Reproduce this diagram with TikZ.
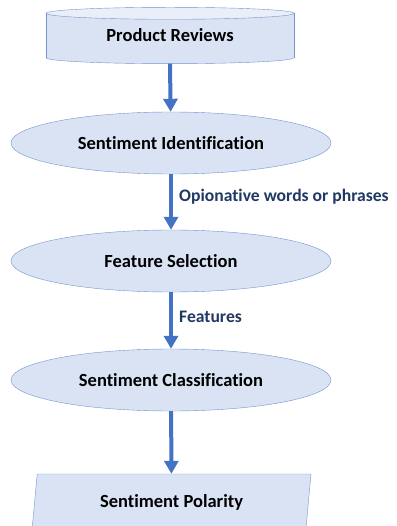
\documentclass[tikz,border=0pt]{standalone}
\usepackage{fontspec}
\setmainfont[Ligatures=NoCommon]{Carlito}
\usetikzlibrary{shapes.geometric,arrows.meta,positioning}
\definecolor{boxfill}{HTML}{DAE3F3}
\definecolor{boxtop}{HTML}{E9EEF8}
\definecolor{boxline}{HTML}{7394D0}
\definecolor{flowblue}{HTML}{4472C4}
\definecolor{notenavy}{HTML}{203864}
\tikzset{
  stage/.style={ellipse,draw=boxline,fill=boxfill,minimum width=320pt,minimum height=62pt},
  outbox/.style={trapezium,trapezium left angle=77,trapezium right angle=103,
    trapezium stretches body,draw=boxline,fill=boxfill,minimum width=279pt,minimum height=56pt},
  flow/.style={draw=flowblue,line width=4pt,-{Triangle[length=13pt,width=14pt]}},
  note/.style={text=notenavy,anchor=west,inner sep=1pt,font=\fontsize{17.6}{20}\selectfont\bfseries}
}
\begin{document}
\begin{tikzpicture}[x=1pt,y=-1pt,every node/.style={font=\fontsize{18.5}{21}\selectfont\bfseries}]
\clip (0,0) rectangle (396,526);
% the database drum
\node[minimum width=248pt,minimum height=44pt] (reviews) at (170,35.5) {};
\draw[boxline,fill=boxfill] (reviews.south) ellipse (124 and 6);
\fill[boxfill] (reviews.north west) rectangle (reviews.south east);
\draw[boxline] (reviews.north west) -- (reviews.south west)
  (reviews.north east) -- (reviews.south east);
\draw[boxline,fill=boxtop] (reviews.north) ellipse (124 and 6);
\node at (reviews.center) {Product Reviews};
% shapes
\node[stage] (ident) at (171,143) {Sentiment Identification};
\node[stage] (select) at (171,261) {Feature Selection};
\node[stage] (classify) at (171,380) {Sentiment Classification};
\node[outbox] (polarity) at (171.5,502) {Sentiment Polarity};
% arrows
\draw[flow] ([yshift=-6pt]reviews.south) -- (ident);
\draw[flow] (ident) -- (select);
\draw[flow] (select) -- (classify);
\draw[flow] (classify) -- (polarity);
% labels
\node[note] (opinion) at (178,197) {Opionative words or phrases};
\node[note] (feat) at (178,317) {Features};
\end{tikzpicture}
\end{document}
